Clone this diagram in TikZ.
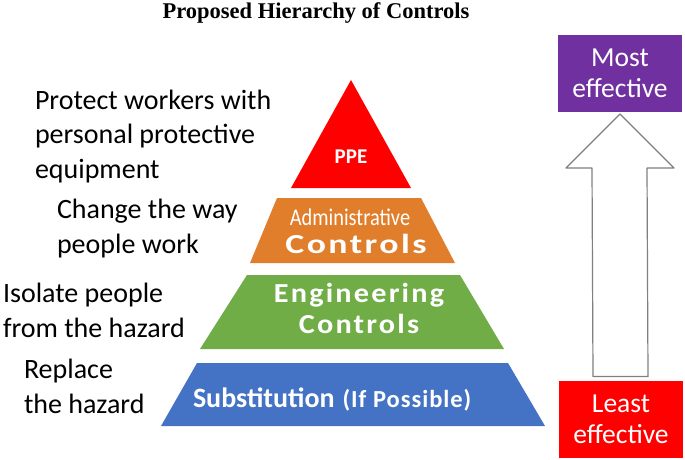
\documentclass[tikz,border=0pt]{standalone}
\usepackage{fontspec}
\setmainfont{Carlito}
\newfontfamily\titlefont{Liberation Serif}
\newfontfamily\narrowfont[FakeStretch=0.85]{Carlito}
\newfontfamily\widefont[FakeStretch=1.3,LetterSpace=9]{Carlito}
\newfontfamily\spacedfont[FakeStretch=1.1,LetterSpace=8]{Carlito}
\usepackage{tikz}
\usetikzlibrary{positioning,calc}

\definecolor{ppered}{HTML}{FF0000}
\definecolor{adminorange}{HTML}{E07E2C}
\definecolor{enggreen}{HTML}{70AD47}
\definecolor{subblue}{HTML}{4472C4}
\definecolor{mostpurple}{HTML}{7030A0}
\definecolor{arrowgray}{HTML}{7F7F7F}

\begin{document}
\begin{tikzpicture}[x=1pt,y=-1pt]
    \tikzstyle{every node}=[inner sep=0,outer sep=0]
    \tikzstyle{note}=[font=\fontsize{28}{34.5}\selectfont,align=left,anchor=base west]
    \tikzstyle{tag}=[text=white,anchor=base]
    \tikzstyle{box}=[text=white,font=\fontsize{27.5}{31}\selectfont,align=center,minimum width=124,minimum height=77]
    \tikzstyle{bigarrow}=[draw=arrowgray,line width=1.2,fill=white,line join=round]
    {
        \useasboundingbox (0,0) rectangle (685,460);

        \node[anchor=base,font=\titlefont\bfseries\fontsize{22.5}{25}\selectfont] (title) at (316,19) {Proposed Hierarchy of Controls};

        % pyramid levels
        \fill[ppered] (351,80) -- (411,188) -- (291,188) -- cycle;
        \fill[adminorange] (277,198) -- (421,198) -- (455,263) -- (250,263) -- cycle;
        \fill[enggreen] (247,275) -- (460,275) -- (504,349) -- (200,349) -- cycle;
        \fill[subblue] (197,363) -- (508,363) -- (545,426) -- (161,426) -- cycle;

        \node[tag,font=\bfseries\fontsize{21}{24}\selectfont] (ppe) at (351,163) {PPE};
        \node[tag,font=\narrowfont\fontsize{24}{26}\selectfont] (admin) at (350,225) {Administrative};
        \node[tag,font=\widefont\bfseries\fontsize{27.5}{30}\selectfont] (adminctl) at (356,253) {Controls};
        \node[tag,font=\spacedfont\bfseries\fontsize{27.5}{30}\selectfont] (eng) at (359,302) {Engineering};
        \node[tag,font=\spacedfont\bfseries\fontsize{27.5}{30}\selectfont] (engctl) at (359,333) {Controls};
        \node[tag,anchor=base west,font=\bfseries\fontsize{28}{30}\selectfont] (subst) at (193,407) {Substitution};
        \node[tag,anchor=base west,font=\bfseries\fontsize{24.5}{26}\selectfont\addfontfeature{LetterSpace=4}] (ifposs) at ([xshift=8]subst.base east) {(If Possible)};

        % notes on the left (base = last line)
        \node[note] (ppenote) at (35,178) {Protect workers with\\personal protective\\equipment};
        \node[note] (adminnote) at (57,253) {Change the way\\people work};
        \node[note] (engnote) at (3,337) {Isolate people\\from the hazard};
        \node[note] (subnote) at (24,413) {Replace\\the hazard};

        % effectiveness scale
        \node[box,fill=mostpurple] (most) at (620,73.5) {Most\\effective};
        \node[box,fill=ppered] (least) at (621,419) {Least\\effective};

        \draw[bigarrow] ($(least.north)+(-28,-4)$) -- ($(most.south)+(-28,56)$)
            -- ($(most.south)+(-54,56)$) -- ($(most.south)+(0,2)$)
            -- ($(most.south)+(54,56)$) -- ($(most.south)+(27,56)$)
            -- ($(least.north)+(27,-4)$) -- cycle;
    }
\end{tikzpicture}
\end{document}
